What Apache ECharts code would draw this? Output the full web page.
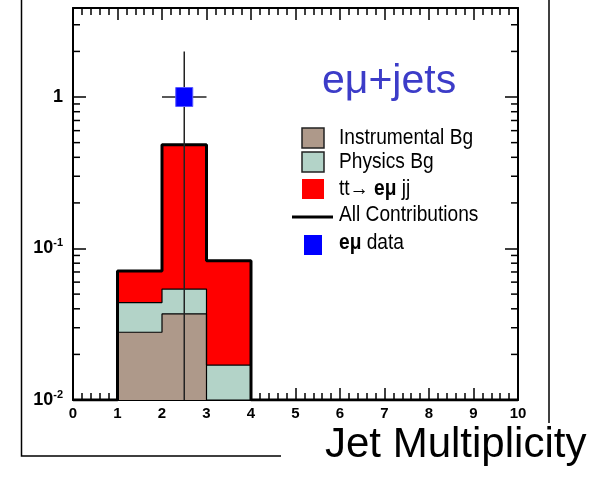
<!DOCTYPE html>
<html>
<head>
<meta charset="utf-8">
<script src="https://cdn.jsdelivr.net/npm/echarts@6/dist/echarts.min.js"></script>
<style>
  html, body { margin: 0; padding: 0; background: #ffffff; }
  #chart { width: 604px; height: 482px; }
</style>
</head>
<body>
<div id="chart"></div>
<script>
// Jet multiplicity in the e-mu + jets channel (stacked expectation vs data)

// bin edges of the histogram (jet multiplicity)
const binEdges = [1, 2, 3, 4];
// per-bin contributions (events), stacked bottom to top
const instrumentalBg = [0.028, 0.037, 0.0];
const physicsBg      = [0.016, 0.017, 0.017];
const ttbarSignal    = [0.027, 0.430, 0.066];

// observed data
const dataX        = [2.5];
const dataY        = [1.0];
const dataErrX     = [0.5];
const dataErrUp    = [1.0];
const dataErrDown  = [1.0];

// axis ranges and ticks
const xRange = [0, 10];
const yRange = [0.01, 3.87];
const yMinorTicks = [0.02, 0.03, 0.04, 0.05, 0.06, 0.07, 0.08, 0.09,
                     0.2, 0.3, 0.4, 0.5, 0.6, 0.7, 0.8, 0.9, 2, 3];

const legendLabels = [
  'Instrumental Bg',
  'Physics Bg',
  '{n|tt\u2192 }{b|e\u03bc}{n| jj}',
  'All Contributions',
  '{b|e\u03bc}{n| data}'
];
const titleText = 'e\u03bc+jets';
const xTitle = 'Jet Multiplicity';

const colInstr = '#ae998a';
const colPhys  = '#b3d3c8';
const colSig   = '#ff0000';
const colData  = '#0000ff';

// cumulative stacks
function cumulate(...parts) {
  return parts[0].map((_, i) => parts.reduce((s, p) => s + p[i], 0));
}
const stackInstr = cumulate(instrumentalBg);
const stackPhys  = cumulate(instrumentalBg, physicsBg);
const stackAll   = cumulate(instrumentalBg, physicsBg, ttbarSignal);

// step outline points (turn at the end of each segment), floored at the axis minimum
function stepPoints(levels) {
  const lo = yRange[0];
  const pts = [[xRange[0], lo]];
  levels.forEach((v, i) => pts.push([binEdges[i], Math.max(v, lo)]));
  pts.push([binEdges[binEdges.length - 1], lo]);
  pts.push([xRange[1], lo]);
  return pts;
}

function fillSeries(levels, color, z) {
  return {
    type: 'line', step: 'end', data: stepPoints(levels), symbol: 'none',
    lineStyle: { width: 0 }, areaStyle: { color: color, opacity: 1, origin: 'start' },
    silent: true, z: z, animation: false
  };
}
function outlineSeries(levels, width, z) {
  return {
    type: 'line', step: 'end', data: stepPoints(levels), symbol: 'none',
    lineStyle: { color: '#000', width: width }, silent: true, z: z, animation: false
  };
}

const chart = echarts.init(document.getElementById('chart'), null, { renderer: 'canvas' });

const tickFont = 'Liberation Sans';
const axisLineStyle = { color: '#000', width: 2 };

const xAxisBase = {
  type: 'value', min: xRange[0], max: xRange[1], interval: 1,
  axisLine: { show: true, onZero: false, lineStyle: axisLineStyle },
  axisTick: { inside: true, length: 12, lineStyle: { color: '#000', width: 1.5 } },
  minorTick: { show: true, splitNumber: 5, length: 7, lineStyle: { color: '#000', width: 1.5 } },
  splitLine: { show: false }, minorSplitLine: { show: false }
};
const yAxisBase = {
  type: 'log', logBase: 10, min: yRange[0], max: yRange[1],
  axisLine: { show: true, onZero: false, lineStyle: axisLineStyle },
  axisTick: { inside: true, length: 13, lineStyle: { color: '#000', width: 1.5 } },
  splitLine: { show: false }
};

function yLabel(v) {
  const e = Math.log10(v);
  const r = Math.round(e);
  if (Math.abs(e - r) > 1e-6) return '';
  if (r === 0) return '{b|1}';
  return '{b|10}{s|' + r + '}';
}

const legendFont = "'Liberation Sans', sans-serif";
const legendRows = [
  { kind: 'box', color: colInstr, border: true },
  { kind: 'box', color: colPhys, border: true },
  { kind: 'box', color: colSig, border: false },
  { kind: 'line' },
  { kind: 'square', color: colData }
];
const rowCenters = [138, 162, 189, 215, 243];
const legendGraphics = [];
legendRows.forEach((row, i) => {
  const cy = rowCenters[i];
  if (row.kind === 'box') {
    legendGraphics.push({
      type: 'rect', shape: { x: 302, y: cy - 10, width: 22, height: 20 },
      style: { fill: row.color, stroke: row.border ? '#222' : null, lineWidth: row.border ? 1.5 : 0 }
    });
  } else if (row.kind === 'line') {
    legendGraphics.push({
      type: 'line', shape: { x1: 292, y1: cy + 2, x2: 333, y2: cy + 2 },
      style: { stroke: '#000', lineWidth: 3 }
    });
  } else {
    legendGraphics.push({
      type: 'rect', shape: { x: 304, y: cy - 8, width: 18, height: 20 },
      style: { fill: row.color }
    });
  }
  legendGraphics.push({
    type: 'text', x: 339, y: cy, scaleX: 0.87, originX: 0,
    style: {
      text: legendLabels[i], fill: '#000', fontSize: 22, fontFamily: legendFont,
      verticalAlign: 'middle', align: 'left',
      rich: {
        n: { fontSize: 22, fontFamily: legendFont, fill: '#000' },
        b: { fontSize: 22, fontFamily: legendFont, fontWeight: 'bold', fill: '#000' }
      }
    }
  });
});

const option = {
  backgroundColor: '#ffffff',
  animation: false,
  grid: { left: 73, top: 8, width: 445, height: 392, containLabel: false },
  xAxis: [
    Object.assign({}, xAxisBase, {
      position: 'bottom',
      axisLabel: { show: true, color: '#000', fontSize: 15, fontWeight: 'bold', fontFamily: tickFont, margin: 6 }
    }),
    Object.assign({}, xAxisBase, { position: 'top', axisLabel: { show: false } })
  ],
  yAxis: [
    Object.assign({}, yAxisBase, {
      position: 'left',
      axisLabel: {
        show: true, margin: 10, formatter: yLabel,
        rich: {
          b: { fontSize: 18, fontWeight: 'bold', fontFamily: tickFont, color: '#000', lineHeight: 22 },
          s: { fontSize: 11, fontWeight: 'bold', fontFamily: tickFont, color: '#000', verticalAlign: 'top', lineHeight: 11 }
        }
      }
    }),
    Object.assign({}, yAxisBase, { position: 'right', axisLabel: { show: false } })
  ],
  series: [
    fillSeries(stackAll, colSig, 1),
    fillSeries(stackPhys, colPhys, 2),
    fillSeries(stackInstr, colInstr, 3),
    outlineSeries(stackInstr, 1.2, 4),
    outlineSeries(stackPhys, 1.2, 4),
    outlineSeries(stackAll, 3, 5),
    {
      // minor decade ticks on both vertical frame edges
      type: 'custom', silent: true, z: 6, animation: false,
      data: yMinorTicks.map(v => [xRange[0], v]),
      encode: { x: 0, y: 1 },
      renderItem: function (params, api) {
        const v = api.value(1);
        const l = api.coord([xRange[0], v]);
        const r = api.coord([xRange[1], v]);
        const st = { stroke: '#000', lineWidth: 1.5 };
        return {
          type: 'group', children: [
            { type: 'line', shape: { x1: l[0], y1: l[1], x2: l[0] + 7, y2: l[1] }, style: st },
            { type: 'line', shape: { x1: r[0] - 7, y1: r[1], x2: r[0], y2: r[1] }, style: st }
          ]
        };
      }
    },
    {
      // data point with error bars
      type: 'custom', silent: true, z: 10, animation: false, clip: false,
      data: dataX.map((x, i) => [x, dataY[i], dataErrX[i], dataErrUp[i], dataErrDown[i]]),
      encode: { x: 0, y: 1 },
      renderItem: function (params, api) {
        const x = api.value(0), y = api.value(1);
        const ex = api.value(2), eu = api.value(3), ed = api.value(4);
        const c = api.coord([x, y]);
        const top = api.coord([x, y + eu]);
        const lowVal = Math.max(y - ed, yRange[0]);
        const bot = api.coord([x, lowVal]);
        const l = api.coord([x - ex, y]);
        const r = api.coord([x + ex, y]);
        const st = { stroke: '#222', lineWidth: 1.5 };
        return {
          type: 'group', children: [
            { type: 'line', shape: { x1: top[0], y1: top[1], x2: bot[0], y2: bot[1] }, style: st },
            { type: 'line', shape: { x1: l[0], y1: l[1], x2: r[0], y2: r[1] }, style: st },
            { type: 'rect', shape: { x: c[0] - 8.5, y: c[1] - 9.5, width: 17, height: 19 },
              style: { fill: colData, stroke: '#5a5aff', lineWidth: 1 } }
          ]
        };
      }
    }
  ],
  graphic: [
    // outer frame of the figure
    { type: 'polyline', shape: { points: [[21.5, 0], [21.5, 456], [281, 456]] },
      style: { stroke: '#000', lineWidth: 1.5, fill: null } },
    { type: 'line', shape: { x1: 549, y1: 0, x2: 549, y2: 423 },
      style: { stroke: '#000', lineWidth: 1.5 } },
    { type: 'text', x: 322, y: 82,
      style: { text: titleText, fill: '#3c3cc8', fontSize: 41, fontFamily: 'Liberation Sans', verticalAlign: 'middle' } },
    { type: 'text', x: 325, y: 445,
      style: { text: xTitle, fill: '#000', fontSize: 42, fontFamily: 'Liberation Sans', verticalAlign: 'middle' } }
  ].concat(legendGraphics)
};

chart.setOption(option);
</script>
</body>
</html>
